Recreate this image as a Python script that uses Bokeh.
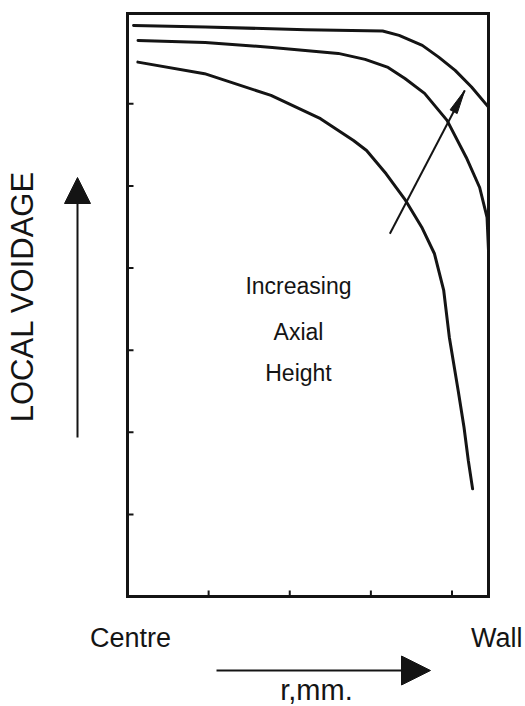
import numpy as np
from bokeh.plotting import figure
from bokeh.models import Range1d, Label, Arrow, NormalHead
from bokeh.embed import file_html
from bokeh.resources import INLINE

# Radial position (0 = centre, R_WALL = wall) against local voidage,
# one profile per axial height (low -> high).
R_WALL = 4.45
VOID_MAX = 7.1

r_low = [0.128, 0.950, 1.769, 2.379, 2.786, 2.947, 3.188, 3.428, 3.627,
         3.784, 3.898, 3.967, 4.076, 4.148, 4.201, 4.254]
void_low = [6.508, 6.367, 6.102, 5.819, 5.554, 5.432, 5.148, 4.823, 4.498,
            4.174, 3.727, 3.158, 2.509, 2.062, 1.656, 1.311]

r_mid = [0.130, 0.958, 1.784, 2.598, 2.929, 3.212, 3.420, 3.662, 3.939,
         4.176, 4.341, 4.432, 4.45]
void_mid = [6.772, 6.748, 6.687, 6.614, 6.541, 6.443, 6.309, 6.127, 5.798,
            5.347, 4.981, 4.616, 4.214]

r_high = [0.075, 0.960, 2.196, 3.145, 3.348, 3.634, 3.836, 4.039, 4.241, 4.45]
void_high = [6.955, 6.935, 6.903, 6.886, 6.834, 6.712, 6.569, 6.407, 6.204, 5.96]

x_ticks = [1, 2, 3, 4]
y_ticks = [1, 2, 3, 4, 5, 6]

# "Increasing axial height" arrow, from tail to tip (data units)
height_arrow_tail = (3.234, 4.418)
height_arrow_tip = (4.157, 6.163)

# Page and plotting-box layout (pixels)
W, H = 525, 706
BOX_LEFT, BOX_RIGHT, BOX_TOP, BOX_BOTTOM = 127, 488, 13, 596
PX_X = (BOX_RIGHT - BOX_LEFT) / R_WALL
PX_Y = (BOX_BOTTOM - BOX_TOP) / VOID_MAX


def dx(px):
    """Horizontal pixel offset from the box's left edge -> data units."""
    return px / PX_X


def dy(px):
    """Vertical pixel offset from the box's bottom edge -> data units."""
    return px / PX_Y


INK = "#141414"
FONT = "Liberation Sans"

# The drawing area covers the whole page so that the annotations around
# the box (axis captions and arrows) share the same data scales.
p = figure(width=W, height=H,
           x_range=Range1d(dx(-BOX_LEFT), dx(W - BOX_LEFT)),
           y_range=Range1d(dy(-(H - BOX_BOTTOM)), dy(BOX_BOTTOM)),
           output_backend="svg", toolbar_location=None,
           min_border=0)
p.axis.visible = False
p.grid.visible = False
p.outline_line_color = None
p.background_fill_color = "white"
p.border_fill_color = "white"

# Plotting box with inward ticks
p.quad(left=0, right=R_WALL, bottom=0, top=VOID_MAX,
       fill_color=None, line_color=INK, line_width=3, line_join="miter")
p.segment(x0=x_ticks, y0=[0] * len(x_ticks), x1=x_ticks, y1=[dy(6)] * len(x_ticks),
          line_color=INK, line_width=2)
p.segment(x0=[0] * len(y_ticks), y0=y_ticks, x1=[dx(6)] * len(y_ticks), y1=y_ticks,
          line_color=INK, line_width=2)

# Voidage profiles
for xs, ys in ((r_low, void_low), (r_mid, void_mid), (r_high, void_high)):
    p.line(xs, ys, line_width=3, line_color=INK, line_join="round", line_cap="round")

# Diagonal arrow with a slender head
tail = np.array(height_arrow_tail)
tip = np.array(height_arrow_tip)
vec_px = np.array([(tip[0] - tail[0]) * PX_X, (tip[1] - tail[1]) * PX_Y])
u = vec_px / np.hypot(*vec_px)
n = np.array([-u[1], u[0]])
head_len, head_half = 24, 4
base_px = -u * head_len
c1 = base_px + n * head_half
c2 = base_px - n * head_half
p.line([tail[0], tip[0]], [tail[1], tip[1]], line_width=2, line_color=INK)
p.patch([tip[0], tip[0] + dx(c1[0]), tip[0] + dx(c2[0])],
        [tip[1], tip[1] + dy(c1[1]), tip[1] + dy(c2[1])],
        fill_color=INK, line_color=INK, line_width=1)

# Direction arrows for the two axes
p.add_layout(Arrow(x_start=dx(-50), y_start=dy(159), x_end=dx(-50), y_end=dy(419),
                   line_width=2, line_color=INK,
                   end=NormalHead(size=26, fill_color=INK, line_color=INK, line_width=1)))
p.add_layout(Arrow(x_start=dx(89), y_start=dy(-74), x_end=dx(303), y_end=dy(-74),
                   line_width=2, line_color=INK,
                   end=NormalHead(size=29, fill_color=INK, line_color=INK, line_width=1)))

labels = [
    dict(x=dx(-105), y=dy(300), text="LOCAL VOIDAGE", size="31px", align="center",
         baseline="middle", angle=np.pi / 2),
    dict(x=dx(3), y=dy(-41), text="Centre", size="27px", align="center",
         baseline="alphabetic", angle=0),
    dict(x=dx(395), y=dy(-41), text="Wall", size="27px", align="right",
         baseline="alphabetic", angle=0),
    dict(x=dx(189), y=dy(-93), text="r,mm.", size="29px", align="center",
         baseline="alphabetic", angle=0),
    dict(x=dx(171), y=dy(311), text="Increasing", size="23px", align="center",
         baseline="alphabetic", angle=0),
    dict(x=dx(171), y=dy(265), text="Axial", size="23px", align="center",
         baseline="alphabetic", angle=0),
    dict(x=dx(171), y=dy(224), text="Height", size="23px", align="center",
         baseline="alphabetic", angle=0),
]
for lb in labels:
    p.add_layout(Label(x=lb["x"], y=lb["y"], text=lb["text"], angle=lb["angle"],
                       text_font=FONT, text_font_size=lb["size"], text_color=INK,
                       text_align=lb["align"], text_baseline=lb["baseline"]))

open("out.html", "w").write(file_html(p, INLINE))
